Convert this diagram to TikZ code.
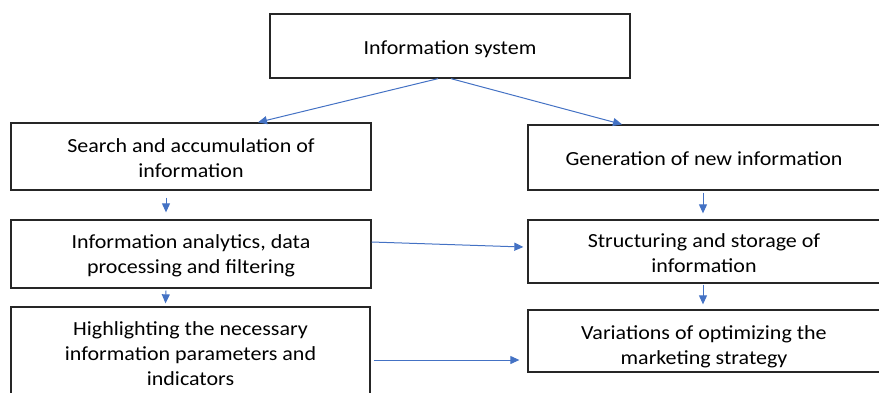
\documentclass[tikz,border=0pt]{standalone}
\usepackage{fontspec}
\setmainfont{Carlito}[FakeStretch=1.1]
\usetikzlibrary{arrows.meta}
\definecolor{flowblue}{HTML}{4472C4}
\definecolor{boxline}{HTML}{262626}
% centred lines, 25pt apart, lowered a little inside the box (box size kept)
\newcommand\boxtext[2][3pt]{\raisebox{-#1}[\height][\depth]{\begin{tabular}{@{}c@{}}#2\end{tabular}}}
\tikzset{
  stage/.style={draw=boxline, line width=1.3pt, fill=white,
    inner sep=0pt, font=\fontsize{20}{25}\selectfont},
  arr/.style={draw=flowblue, line width=1pt, -{Triangle[length=9pt,width=8pt]}}
}
\begin{document}
\begin{tikzpicture}[x=1pt,y=-1pt]
\useasboundingbox (0,0) rectangle (879,392);
% top level
\node[stage, minimum width=360pt, minimum height=64pt] (top) at (450,46)
  {\boxtext{Information system}};
% left branch
\node[stage, minimum width=360pt, minimum height=67pt] (s1) at (191,156.5)
  {\boxtext{Search and accumulation of\\information}};
\node[stage, minimum width=360pt, minimum height=68pt] (s2) at (191,254)
  {\boxtext[2pt]{Information analytics, data\\processing and filtering}};
\node[stage, minimum width=359pt, minimum height=92pt] (s3) at (190.5,353)
  {\boxtext[2pt]{Highlighting the necessary\\information parameters and\\indicators}};
% right branch
\node[stage, minimum width=352pt, minimum height=65pt] (g1) at (704,157.5)
  {\boxtext{Generation of new information}};
\node[stage, minimum width=352pt, minimum height=63pt] (g2) at (704,251.5)
  {\boxtext{Structuring and storage of\\information}};
\node[stage, minimum width=352pt, minimum height=62pt] (g3) at (704,341)
  {\boxtext[5.5pt]{Variations of optimizing the\\marketing strategy}};
% connectors
\draw[arr] ([xshift=-12pt]top.south) -- ([xshift=67pt]s1.north);
\draw[arr] ([xshift=1pt]top.south) -- ([xshift=-82pt]g1.north);
\draw[arr] ([xshift=-25pt,yshift=-7pt]s1.south) -- ([xshift=-25pt,yshift=7pt]s2.north);
\draw[arr] ([xshift=-25pt,yshift=-2pt]s2.south) -- ([xshift=-25pt,yshift=3pt]s3.north);
\draw[arr] ([xshift=-1pt,yshift=-2pt]g1.south) -- ([xshift=-1pt,yshift=6pt]g2.north);
\draw[arr] ([xshift=-1pt,yshift=-1pt]g2.south) -- ([xshift=-1pt,yshift=5pt]g3.north);
\draw[arr] ([yshift=12pt]s2.east) -- ([xshift=-4pt,yshift=4.5pt]g2.west);
\draw[arr] ([xshift=3pt,yshift=-7pt]s3.east) -- ([xshift=-8pt,yshift=-19pt]g3.west);
\end{tikzpicture}
\end{document}
